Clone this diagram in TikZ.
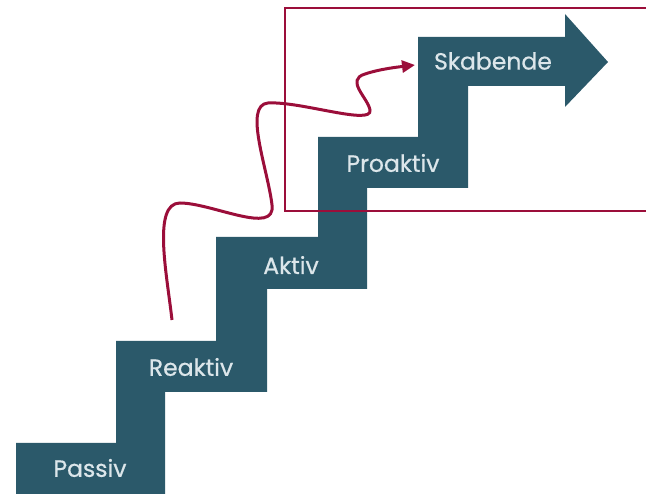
\documentclass[tikz,border=0pt]{standalone}
\usepackage{fontspec}
\setmainfont{Poppins}
\newfontfamily\lblfont{Poppins}[FakeBold=0.6]
\usetikzlibrary{arrows.meta}
\definecolor{stair}{RGB}{43,89,106}
\definecolor{lbl}{RGB}{220,230,234}
\definecolor{wine}{RGB}{155,14,58}
\tikzset{
  steplabel/.style={text=lbl, font=\lblfont\fontsize{23.5}{26}\selectfont, inner sep=0pt, anchor=center},
  frame/.style={draw=wine, line width=1.8pt},
  wavy/.style={draw=wine, line width=3pt, -{Triangle[length=13pt,width=12pt]}}
}
\begin{document}
\begin{tikzpicture}[x=1pt,y=-1pt]
\useasboundingbox (0,0) rectangle (646,494);
% staircase
\fill[stair] (16,494) -- (16,443) -- (116,443) -- (116,341) -- (216,341) -- (216,237)
  -- (318,237) -- (318,137) -- (418,137) -- (418,37) -- (565,37) -- (565,14)
  -- (608,62) -- (565,107) -- (565,86) -- (468,86) -- (468,188) -- (367,188)
  -- (367,289) -- (267,289) -- (267,392) -- (165,392) -- (165,494) -- cycle;
% labels
\node[steplabel] (passiv) at (90,468) {Passiv};
\node[steplabel] (reaktiv) at (191,367) {Reaktiv};
\node[steplabel] (aktiv) at (291,265) {Aktiv};
\node[steplabel] (proaktiv) at (393,163) {Proaktiv};
\node[steplabel] (skabende) at (493,61) {Skabende};
% frame
\draw[frame] (285,8) rectangle (652,211);
% wavy arrow
\coordinate (start) at (172,320);
\coordinate (tip) at (415,65);
\draw[wavy] (start) .. controls (167,275) and (152,203) .. (180,203)
  .. controls (212,203) and (276,236) .. (272,205)
  .. controls (268,170) and (243,105) .. (268,103)
  .. controls (300,101) and (373,126) .. (370,110)
  .. controls (368,98) and (345,80) .. (365,74)
  .. controls (380,69) and (398,67) .. (tip);
\end{tikzpicture}
\end{document}
